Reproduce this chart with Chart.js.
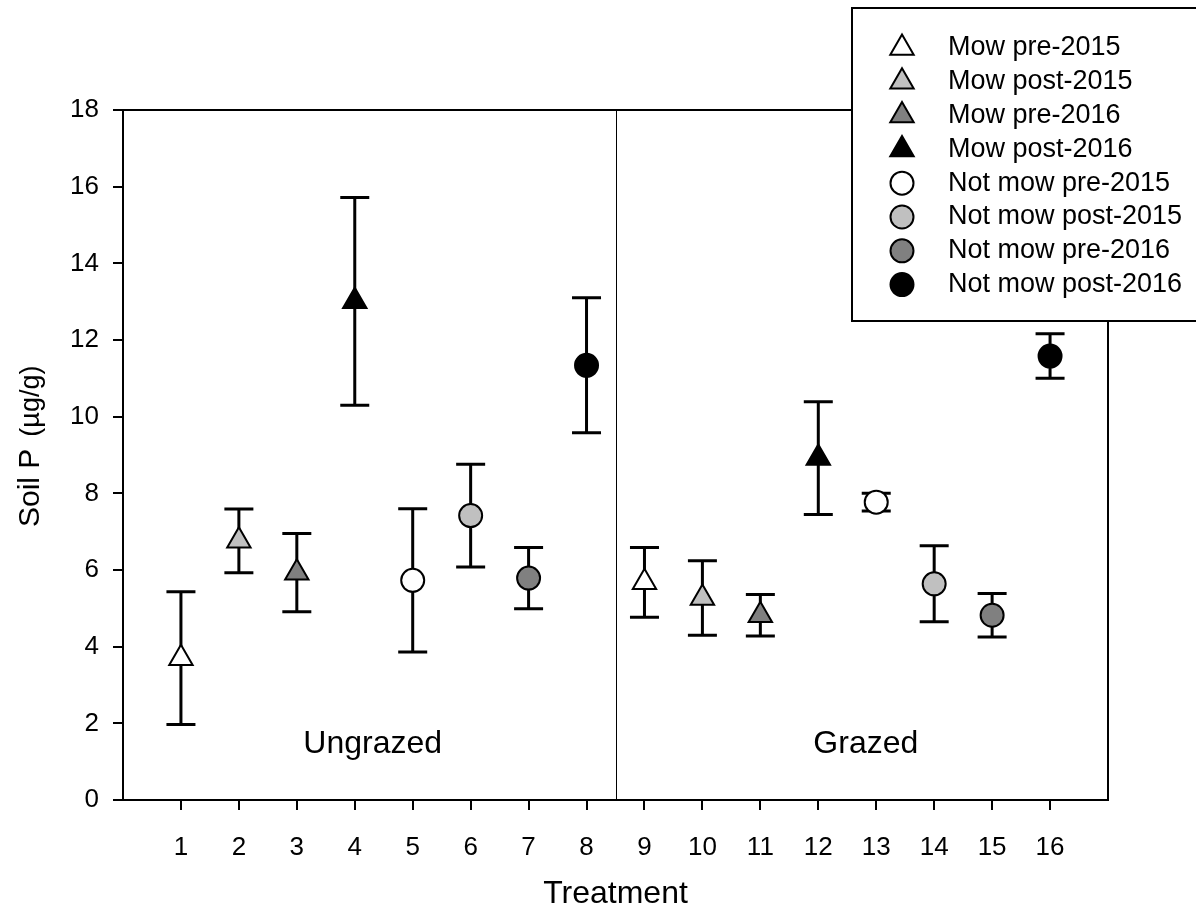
<!DOCTYPE html>
<html>
<head>
<meta charset="utf-8">
<title>Soil P</title>
<script src="https://cdn.jsdelivr.net/npm/chart.js@4/dist/chart.umd.min.js"></script>
<style>
  html, body { margin: 0; padding: 0; background: #fff; }
</style>
</head>
<body>
<canvas id="grafico" width="1196" height="913"></canvas>
<script>
// treatments 1-8 ungrazed, 9-16 grazed
var treatments = [1, 2, 3, 4, 5, 6, 7, 8, 9, 10, 11, 12, 13, 14, 15, 16];
var soilP    = [3.70, 6.76, 5.93, 13.01, 5.73, 7.42, 5.79, 11.34, 5.68, 5.27, 4.82, 8.92, 7.77, 5.64, 4.82, 11.58];
var soilPErr = [1.73, 0.83, 1.02, 2.71, 1.87, 1.34, 0.80, 1.76, 0.91, 0.97, 0.54, 1.47, 0.23, 0.99, 0.57, 0.58];

var seriesNames = ['Mow pre-2015', 'Mow post-2015', 'Mow pre-2016', 'Mow post-2016',
                   'Not mow pre-2015', 'Not mow post-2015', 'Not mow pre-2016', 'Not mow post-2016'];
var seriesFill  = ['#ffffff', '#c0c0c0', '#808080', '#000000', '#ffffff', '#c0c0c0', '#808080', '#000000'];
var seriesShape = ['triangle', 'triangle', 'triangle', 'triangle', 'circle', 'circle', 'circle', 'circle'];

var yTicks = [0, 2, 4, 6, 8, 10, 12, 14, 16, 18];
var groupNames = ['Ungrazed', 'Grazed'];
var groupX = [4.31, 12.82];
var groupY = 1.45;
var dividerAt = 8.5;

var fontFam = "'Liberation Sans', Arial, sans-serif";
var triR = 13.5, circR = 11.5, capHalf = 14.5;

// one series = same mowing/year combo, once ungrazed and once grazed
var datasets = seriesNames.map(function (name, k) {
  return {
    label: name,
    data: [
      { x: treatments[k], y: soilP[k], err: soilPErr[k] },
      { x: treatments[k + 8], y: soilP[k + 8], err: soilPErr[k + 8] }
    ],
    showLine: false,
    pointStyle: seriesShape[k],
    pointRadius: seriesShape[k] == 'triangle' ? triR : circR,
    pointHoverRadius: seriesShape[k] == 'triangle' ? triR : circR,
    pointBackgroundColor: seriesFill[k],
    pointBorderColor: '#000',
    pointBorderWidth: 2
  };
});

function marker(ctx, shape, x, y, fill) {
  ctx.beginPath();
  if (shape == 'triangle') {
    ctx.moveTo(x, y - triR);
    ctx.lineTo(x + 0.866 * triR, y + 0.5 * triR);
    ctx.lineTo(x - 0.866 * triR, y + 0.5 * triR);
    ctx.closePath();
  } else {
    ctx.arc(x, y, circR, 0, Math.PI * 2);
  }
  ctx.fillStyle = fill;
  ctx.fill();
  ctx.lineWidth = 2;
  ctx.strokeStyle = '#000';
  ctx.stroke();
}

var extras = {
  id: 'extras',
  beforeDatasetsDraw: function (chart) {
    var ctx = chart.ctx, a = chart.chartArea;
    var xs = chart.scales.x, ys = chart.scales.y;
    ctx.save();

    // frame
    ctx.strokeStyle = '#000';
    ctx.lineWidth = 2;
    ctx.strokeRect(a.left, a.top, a.right - a.left, a.bottom - a.top);

    // divider ungrazed / grazed
    var xd = Math.round(xs.getPixelForValue(dividerAt)) + 0.5;
    ctx.lineWidth = 1;
    ctx.beginPath();
    ctx.moveTo(xd, a.top);
    ctx.lineTo(xd, a.bottom);
    ctx.stroke();

    // error bars
    ctx.lineWidth = 3;
    chart.data.datasets.forEach(function (ds) {
      ds.data.forEach(function (p) {
        var px = xs.getPixelForValue(p.x);
        var top = ys.getPixelForValue(p.y + p.err);
        var bot = ys.getPixelForValue(p.y - p.err);
        ctx.beginPath();
        ctx.moveTo(px, top); ctx.lineTo(px, bot);
        ctx.moveTo(px - capHalf, top); ctx.lineTo(px + capHalf, top);
        ctx.moveTo(px - capHalf, bot); ctx.lineTo(px + capHalf, bot);
        ctx.stroke();
      });
    });

    // group labels
    ctx.fillStyle = '#000';
    ctx.font = '32px ' + fontFam;
    ctx.textAlign = 'center';
    ctx.textBaseline = 'middle';
    groupNames.forEach(function (g, i) {
      ctx.fillText(g, xs.getPixelForValue(groupX[i]), ys.getPixelForValue(groupY));
    });
    ctx.restore();
  },
  afterDraw: function (chart) {
    var ctx = chart.ctx;
    ctx.save();

    // y axis title, unit in smaller type
    var big = '30px ' + fontFam, small = '27px ' + fontFam;
    ctx.translate(28, 527);
    ctx.rotate(-Math.PI / 2);
    ctx.fillStyle = '#000';
    ctx.textBaseline = 'alphabetic';
    ctx.textAlign = 'left';
    ctx.font = big;
    ctx.fillText('Soil P', 0, 11);
    var w1 = ctx.measureText('Soil P').width;
    ctx.font = small;
    ctx.fillText('(µg/g)', w1 + 12, 11);
    ctx.setTransform(1, 0, 0, 1, 0, 0);

    // legend box
    var lx = 852, ly = 8, lw = 360, lh = 313;
    ctx.fillStyle = '#fff';
    ctx.fillRect(lx, ly, lw, lh);
    ctx.strokeStyle = '#000';
    ctx.lineWidth = 2;
    ctx.strokeRect(lx, ly, lw, lh);
    ctx.font = '27px ' + fontFam;
    ctx.textBaseline = 'middle';
    ctx.textAlign = 'left';
    seriesNames.forEach(function (name, k) {
      var ry = 48 + k * 33.8;
      marker(ctx, seriesShape[k], 902, ry, seriesFill[k]);
      ctx.fillStyle = '#000';
      ctx.fillText(name, 948, ry);
    });
    ctx.restore();
  }
};

Chart.defaults.font.family = fontFam;
Chart.defaults.color = '#000';

new Chart(document.getElementById('grafico'), {
  type: 'scatter',
  data: { datasets: datasets },
  options: {
    responsive: false,
    devicePixelRatio: 1,
    animation: false,
    layout: { padding: { top: 110, right: 88, left: 0, bottom: 0 } },
    plugins: { legend: { display: false }, tooltip: { enabled: false } },
    scales: {
      x: {
        type: 'linear',
        min: 0,
        max: 17,
        afterBuildTicks: function (s) { s.ticks = treatments.map(function (v) { return { value: v }; }); },
        afterFit: function (s) { s.height = 113; },
        grid: { drawOnChartArea: false, drawTicks: true, tickLength: 10, color: '#000', lineWidth: 2 },
        border: { display: false },
        ticks: { font: { size: 26 }, color: '#000', padding: 22, maxRotation: 0, autoSkip: false },
        title: { display: true, text: 'Treatment', font: { size: 32 }, color: '#000', padding: { top: 0, bottom: 0 } }
      },
      y: {
        type: 'linear',
        min: 0,
        max: 18,
        afterBuildTicks: function (s) { s.ticks = yTicks.map(function (v) { return { value: v }; }); },
        afterFit: function (s) { s.width = 123; },
        grid: { drawOnChartArea: false, drawTicks: true, tickLength: 10, color: '#000', lineWidth: 2 },
        border: { display: false },
        ticks: { font: { size: 26 }, color: '#000', padding: 14 }
      }
    }
  },
  plugins: [extras]
});
</script>
</body>
</html>
